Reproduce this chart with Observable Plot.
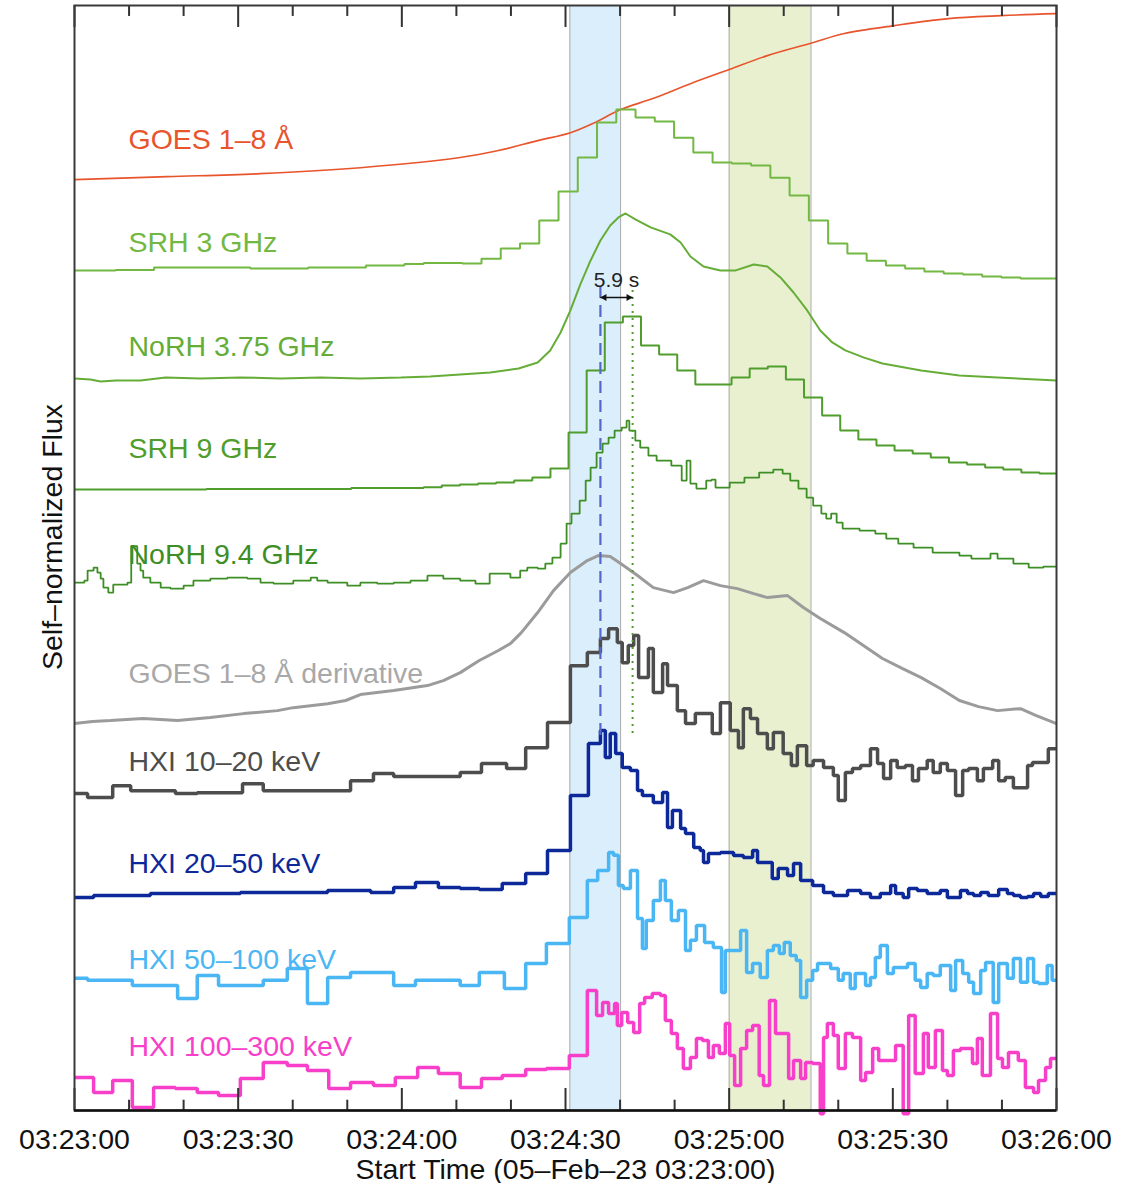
<!DOCTYPE html>
<html>
<head>
<meta charset="utf-8">
<script src="https://cdn.jsdelivr.net/npm/d3@7"></script>
<script src="https://cdn.jsdelivr.net/npm/@observablehq/plot@0.6"></script>
<style>
  html, body { margin: 0; padding: 0; background: #fff; }
  #chart svg { display: block; }
</style>
</head>
<body>
<div id="chart"></div>
<script>
// Flare of 2023-02-05: time is seconds after 03:23:00 UT,
// flux is self-normalized (percent of each channel's own range).

const goesTime = [0, 17, 34, 52.4, 70.7, 77.7, 84.9, 90.9, 95.7, 100.1, 106, 112.9, 120, 127, 135.3, 141.1, 150.3, 160.2, 169.9, 180];
const goesFlux = [0, 1.8, 3.6, 7.2, 13.3, 17.5, 23.5, 28.3, 34.9, 42.2, 48.8, 57.8, 66.3, 74.7, 82.5, 88.0, 92.8, 97.0, 98.8, 100];

// SRH samples on a regular cadence
const srh3Start = 0.47, srh3Cadence = 3.53;
const srh3Flux = [4.8, 4.8, 5.1, 5.1, 6.6, 6.6, 6.6, 6.6, 6.6, 6.0, 6.0, 6.0, 6.6, 6.6, 6.6, 7.8, 7.8, 8.7, 9.3, 9.3,
  9.0, 12.0, 18.1, 21.1, 34.9, 52.4, 72.9, 94.0, 101.8, 97.0, 94.6, 84.9, 75.9, 69.9, 69.3, 68.1, 60.8, 50.0, 34.9, 21.1,
  15.1, 10.8, 7.8, 6.0, 4.2, 3.0, 2.4, 1.2, 0.6, 0, 0];

const norh375Time = [0, 2.9, 4.8, 7.5, 12.1, 16.7, 23.1, 30.4, 37.8, 45.1, 52.4, 59.8, 65.2, 70.7, 76.2, 81.4, 84.9, 87.2, 89.1, 90.9,
  92.7, 94.6, 96.4, 98.2, 99.7, 101.0, 102.8, 105.6, 109.2, 111.1, 112.9, 115.3, 118.4, 121.2, 124.5, 127.0, 129.4, 131.8, 134.3, 136.7,
  138.9, 141.3, 144.6, 148.1, 155.2, 162.2, 169.2, 176.3, 180];
const norh375Flux = [1.8, 1.2, 0, 0.6, 0.6, 2.4, 1.8, 2.4, 1.8, 2.4, 1.8, 2.4, 3.0, 4.2, 5.4, 7.8, 11.4, 18.7, 29.5, 42.8,
  58.4, 72.9, 84.9, 94.0, 98.8, 101.2, 97.6, 92.8, 88.6, 83.7, 75.3, 69.3, 66.9, 66.9, 70.5, 69.3, 62.7, 53.6, 42.8, 30.7,
  23.5, 18.7, 14.5, 10.8, 6.6, 3.6, 2.4, 1.2, 0.6];

const srh9Start = 0.92, srh9Cadence = 3.32;
const srh9Flux = [0, 0, 0, 0, 0, 0, 0, 0.3, 0.3, 0.3, 0.3, 0.3, 0.3, 0.3, 0.3, 0.9, 0.9, 0.9, 0.9,
  1.4, 2.4, 3.0, 3.6, 4.2, 5.4, 7.2, 12.7, 34.3, 71.7, 100.6, 104.2, 86.7, 81.3, 71.7, 63.3, 63.3, 67.5, 72.9, 74.1,
  66.3, 55.4, 44.6, 35.5, 30.1, 26.5, 23.5, 21.7, 19.3, 16.3, 15.1, 13.3, 12.0, 10.2, 9.6];

const norh94Time = [0, 1.8, 2.4, 3.5, 4.2, 4.8, 5.3, 6.2, 7.1, 9.7, 10.4, 11.5, 12.1, 12.6, 13.9, 15.8, 17.6, 20.0, 21.8, 24.9,
  28.0, 31.7, 34.1, 36.5, 40.1, 43.3, 44.5, 46.4, 50.0, 52.4, 55.5, 58.5, 61.6, 64.7, 67.6, 70.7, 73.5, 76.1, 79.9, 81.7,
  83.0, 84.9, 86.3, 87.6, 89.1, 90.2, 91.1, 92.6, 93.7, 94.6, 95.7, 96.8, 97.9, 99.0, 100.3, 101.2, 101.7, 102.8, 103.7, 105.2,
  106.7, 109.4, 111.3, 112.2, 112.9, 114.0, 115.8, 116.8, 117.5, 120.1, 122.8, 125.5, 128.1, 129.8, 131.2, 132.7, 134.2, 135.4, 136.9, 137.8,
  138.7, 139.7, 140.8, 143.9, 146.8, 148.8, 151.0, 153.8, 157.3, 162.2, 164.4, 167.9, 169.2, 172.1, 174.9, 177.6];
const norh94Flux = [6.0, 7.2, 13.3, 15.1, 12.0, 8.4, 3.0, 0, 4.8, 6.0, 28.0, 17.5, 13.3, 9.0, 6.0, 3.0, 2.4, 4.2, 7.2, 8.4,
  9.0, 8.4, 6.0, 5.4, 7.2, 9.0, 7.2, 6.0, 4.2, 6.0, 5.4, 6.0, 7.2, 10.2, 8.4, 7.2, 5.4, 11.4, 9.0, 13.3,
  15.1, 14.5, 17.5, 21.1, 29.5, 41.6, 47.6, 55.4, 67.5, 75.3, 84.3, 89.8, 93.4, 97.6, 99.4, 103.6, 97.6, 91.6, 87.3, 82.5,
  79.5, 76.5, 67.5, 79.5, 65.7, 62.7, 67.5, 68.1, 63.3, 66.3, 69.3, 72.3, 74.1, 71.7, 67.5, 62.7, 57.2, 52.4, 47.6, 44.6,
  47.6, 42.2, 38.6, 37.3, 35.5, 32.5, 29.5, 27.1, 24.1, 22.3, 20.5, 23.5, 20.5, 17.5, 15.1, 15.7];

const goesDerivTime = [0, 3.3, 6.6, 12.6, 18.9, 24.9, 31.0, 37.2, 40.1, 46.4, 49.7, 52.4, 58.5, 64.7, 67.6, 70.7, 74.2, 77.7, 79.9, 81.9,
  84.9, 87.8, 90.9, 94.0, 96.0, 98.2, 100.1, 103.2, 106.1, 109.8, 112.4, 115.3, 118.4, 121.5, 124.5, 127.0, 130.7, 133.6, 136.7, 141.1,
  144.6, 148.1, 151.8, 155.2, 158.7, 162.2, 165.7, 169.2, 173.4, 176.3, 180];
const goesDerivFlux = [0, 1.2, 1.8, 3.0, 1.8, 3.6, 6.0, 7.8, 9.6, 12.0, 13.9, 17.5, 19.9, 22.9, 25.9, 30.7, 38.0, 44.0, 48.2, 54.8,
  66.9, 80.1, 91.0, 98.2, 101.2, 100.6, 96.4, 89.2, 81.9, 78.9, 81.9, 86.1, 83.1, 81.3, 78.3, 75.9, 77.1, 69.9, 63.3, 54.8,
  47.0, 39.2, 33.1, 27.7, 21.1, 13.9, 10.2, 7.8, 9.0, 4.8, 0];

// HXI count-rate bins (variable width), start time of each bin
const hxi10Time = [0, 2.4, 7.0, 10.3, 18.5, 22.5, 30.8, 34.6, 50.6, 54.8, 58.5, 70.7, 74.6, 79.2, 82.7, 86.7, 90.9, 94.0, 96.4, 97.9,
  99.5, 100.4, 101.5, 102.5, 103.4, 105.2, 106.1, 107.8, 108.7, 110.5, 112.0, 113.8, 116.9, 118.4, 120.2, 121.7, 122.6, 123.9, 125.2, 127.0,
  128.1, 129.9, 131.4, 132.5, 134.2, 135.4, 137.3, 139.1, 140.0, 141.3, 142.6, 144.1, 145.9, 147.2, 148.3, 149.6, 150.8, 152.3, 153.6, 154.7,
  156.3, 157.4, 158.7, 160.0, 161.5, 162.8, 163.9, 165.5, 166.6, 168.3, 169.4, 170.6, 172.1, 174.7, 175.6, 178.5];
const hxi10Flux = [4.2, 1.8, 9.0, 6.0, 4.2, 4.8, 10.2, 6.0, 12.0, 16.3, 14.5, 16.9, 22.3, 19.3, 31.9, 47.0, 81.3, 89.2, 97.6, 103.6,
  95.2, 83.1, 93.4, 99.4, 74.1, 91.6, 65.1, 82.5, 69.3, 54.2, 46.4, 52.4, 40.4, 59.0, 42.2, 31.9, 55.4, 49.4, 40.4, 31.3,
  41.0, 28.3, 21.1, 33.1, 21.1, 24.1, 19.9, 15.1, 0, 16.9, 19.3, 21.1, 31.3, 22.3, 13.3, 24.1, 19.9, 21.1, 12.0, 19.3,
  24.1, 16.9, 22.3, 18.1, 3.0, 18.1, 19.3, 12.0, 19.3, 24.1, 12.0, 13.9, 7.8, 21.1, 22.9, 31.3];

const hxi20Time = [0, 3.5, 13.9, 30.4, 46.4, 54.3, 58.5, 62.5, 66.7, 70.7, 74.2, 78.4, 82.7, 86.7, 90.9, 94.2, 96.4, 97.3, 98.2, 99.2,
  100.4, 101.9, 103.2, 104.1, 106.1, 107.8, 108.7, 109.6, 111.1, 112.0, 113.5, 114.7, 115.3, 116.2, 118.4, 120.8, 122.6, 124.3, 125.2, 127.9,
  129.0, 130.7, 131.8, 133.1, 135.3, 137.3, 139.1, 141.7, 144.1, 145.9, 147.7, 149.6, 150.5, 151.9, 152.9, 154.5, 156.3, 158.7, 160.0, 161.1,
  162.4, 163.7, 164.8, 166.1, 167.5, 169.4, 171.0, 172.1, 173.4, 174.7, 175.8, 177.1, 178.5];
const hxi20Flux = [0, 1.2, 2.4, 3.0, 4.2, 3.0, 6.0, 9.0, 6.0, 5.4, 4.8, 8.4, 14.5, 28.3, 61.4, 92.8, 100.6, 84.3, 98.8, 86.7,
  78.3, 76.5, 64.5, 61.4, 57.2, 63.3, 42.2, 52.4, 41.6, 38.6, 30.1, 28.3, 21.1, 26.5, 27.1, 25.3, 24.1, 28.3, 21.1, 11.4,
  17.5, 13.3, 20.5, 10.2, 7.2, 3.0, 1.2, 4.2, 2.4, 0, 2.4, 7.2, 2.4, 0, 5.4, 4.2, 2.4, 4.2, 0, 0,
  4.2, 2.4, 1.2, 3.0, 1.2, 4.8, 2.4, 1.2, 0, 0.6, 2.4, 0.6, 2.4];

const hxi50Time = [0, 2.4, 10.6, 18.9, 22.5, 26.4, 34.6, 39.0, 42.7, 46.4, 50.6, 58.5, 62.5, 70.7, 74.2, 78.8, 82.7, 86.5, 90.7, 94.0,
  95.9, 97.9, 98.8, 99.7, 100.6, 101.9, 103.2, 104.1, 104.8, 106.1, 107.4, 108.3, 109.4, 110.7, 112.0, 112.9, 114.0, 115.5, 117.1, 118.6,
  119.3, 122.1, 123.2, 124.3, 125.7, 127.0, 128.1, 129.2, 130.1, 131.2, 132.3, 133.1, 134.2, 135.3, 136.2, 138.6, 140.0, 140.9, 142.2, 143.1,
  145.0, 145.9, 146.8, 147.7, 149.0, 150.1, 152.7, 154.1, 155.1, 156.3, 157.4, 158.7, 160.6, 161.5, 162.8, 163.9, 164.8, 166.1, 167.0, 168.4,
  169.4, 171.0, 172.1, 173.4, 174.7, 175.8, 176.7, 178.3, 179.2];
const hxi50Flux = [15.1, 13.9, 10.8, 3.0, 16.9, 10.8, 13.9, 21.1, 0, 15.7, 18.7, 10.8, 13.9, 10.8, 18.7, 9.0, 24.1, 36.1, 51.8, 74.1,
  80.1, 91.0, 89.2, 71.1, 69.3, 80.1, 51.2, 33.1, 50.0, 62.0, 74.1, 62.0, 50.0, 56.0, 31.9, 38.0, 47.0, 36.7, 33.7, 6.6,
  31.9, 44.0, 18.7, 24.1, 15.7, 31.9, 34.9, 30.1, 36.7, 28.9, 25.9, 3.6, 13.9, 19.9, 24.1, 21.1, 13.9, 18.1, 9.0, 18.1,
  10.8, 15.7, 27.7, 34.9, 18.1, 21.7, 24.1, 13.9, 9.6, 18.1, 16.9, 22.9, 7.8, 25.9, 18.1, 12.7, 6.0, 19.9, 24.7, 0.6,
  24.1, 15.1, 27.1, 12.7, 27.1, 12.7, 12.0, 22.9, 13.9];

const hxi100Time = [0, 3.5, 7.0, 10.6, 14.5, 18.5, 22.5, 26.4, 30.4, 34.6, 39.0, 42.7, 46.6, 50.6, 54.8, 58.8, 62.9, 66.7, 70.7, 74.6,
  78.4, 82.7, 86.5, 90.7, 94.0, 95.7, 96.8, 97.9, 99.0, 99.5, 100.3, 101.4, 102.5, 103.6, 104.5, 105.9, 107.4, 108.3, 109.4, 110.5,
  111.6, 112.9, 114.0, 115.1, 116.2, 117.1, 118.2, 119.3, 120.1, 121.0, 122.1, 123.2, 124.3, 125.5, 126.3, 127.4, 128.5, 130.9, 131.8, 133.1,
  134.0, 135.3, 136.7, 137.3, 138.0, 139.1, 140.0, 141.3, 142.6, 144.1, 145.0, 146.3, 147.4, 150.5, 151.9, 152.9, 154.1, 155.6, 156.5, 157.8,
  159.1, 160.0, 161.1, 162.4, 164.6, 165.5, 166.4, 167.9, 169.2, 170.1, 171.2, 173.0, 174.3, 175.8, 176.7, 178.0, 178.9];
const hxi100Flux = [19.9, 10.8, 18.1, 1.8, 13.9, 13.3, 10.8, 9.0, 19.3, 28.9, 27.1, 24.1, 13.3, 16.9, 15.1, 19.9, 25.9, 22.3, 13.9, 19.3,
  21.1, 24.7, 25.3, 33.1, 72.3, 57.2, 65.1, 58.4, 64.5, 51.2, 59.0, 53.0, 47.0, 64.5, 68.1, 70.5, 69.3, 54.2, 46.4, 37.3,
  25.3, 31.9, 43.4, 42.2, 31.9, 39.2, 34.3, 52.4, 33.1, 15.1, 37.3, 48.2, 51.2, 21.1, 15.1, 66.3, 46.4, 19.3, 30.1, 19.3,
  28.9, 28.3, -2, 44.0, 52.4, 45.2, 25.3, 46.4, 44.0, 18.1, 22.9, 37.3, 30.1, 39.2, -2, 57.2, 22.3, 46.4, 25.9, 48.2,
  24.1, 21.1, 36.1, 37.3, 28.3, 43.4, 21.1, 58.4, 31.3, 25.9, 34.9, 30.1, 13.9, 10.8, 18.1, 25.9, 31.3];

// Highlighted intervals and the peak-to-peak delay
const impulsiveWindow = [90.8, 100.1];
const secondWindow = [120, 135];
const hxrPeakTime = 96.4;
const radioPeakTime = 102.3;

const tickMajor = [0, 30, 60, 90, 120, 150, 180];
const tickMinor = [10, 20, 40, 50, 70, 80, 100, 110, 130, 140, 160, 170];

// ---- layout / style ----
const seriesLabels = ["GOES 1–8 Å", "SRH 3 GHz", "NoRH 3.75 GHz", "SRH 9 GHz", "NoRH 9.4 GHz",
  "GOES 1–8 Å derivative", "HXI 10–20 keV", "HXI 20–50 keV", "HXI 50–100 keV", "HXI 100–300 keV"];
const seriesColors = ["#e8542c", "#72b843", "#66ad38", "#4f9d2d", "#3d8e24", "#9b9b9b", "#4d4d4d", "#0c2899", "#4ab6f4", "#f83fc9"];
const labelColors = ["#e8542c", "#72b843", "#66ad38", "#4f9d2d", "#3d8e24", "#a8a8a8", "#4d4d4d", "#0c2899", "#4ab6f4", "#f83fc9"];
const seriesWidths = [1.6, 2, 2, 2, 1.8, 3, 3.5, 3.5, 3.5, 3.5];
const seriesOffsets = [5.608, 5.012, 4.392, 3.741, 3.120, 2.331, 1.867, 1.283, 0.645, 0];
const labelLift = [0.187, 0.157, 0.156, 0.187, 0.175, 0.247, 0.181, 0.145, 0.21, 0.331];
const yTop = 6.657;

const regular = (start, cadence, flux) => flux.map((_, k) => start + cadence * k);
const series = [
  {time: goesTime, flux: goesFlux, curve: "catmull-rom"},
  {time: regular(srh3Start, srh3Cadence, srh3Flux), flux: srh3Flux, curve: "step-after"},
  {time: norh375Time, flux: norh375Flux, curve: "linear"},
  {time: regular(srh9Start, srh9Cadence, srh9Flux), flux: srh9Flux, curve: "step-after"},
  {time: norh94Time, flux: norh94Flux, curve: "step-after"},
  {time: goesDerivTime, flux: goesDerivFlux, curve: "linear"},
  {time: hxi10Time, flux: hxi10Flux, curve: "step-after"},
  {time: hxi20Time, flux: hxi20Flux, curve: "step-after"},
  {time: hxi50Time, flux: hxi50Flux, curve: "step-after"},
  {time: hxi100Time, flux: hxi100Flux, curve: "step-after"}
].map((s, i) => {
  const rows = s.time.map((t, k) => ({t: Math.max(0, t), y: seriesOffsets[i] + s.flux[k] / 100}));
  if (s.curve === "step-after" && rows[rows.length - 1].t < 180) rows.push({t: 180, y: rows[rows.length - 1].y});
  if (rows[0].t > 0) rows.unshift({t: 0, y: rows[0].y});
  return {...s, rows, label: seriesLabels[i], color: seriesColors[i], labelColor: labelColors[i],
    width: seriesWidths[i], labelY: seriesOffsets[i] + labelLift[i]};
});

const clockStart = 3 * 3600 + 23 * 60;
const fmtClock = s => {
  const v = clockStart + s;
  return [Math.floor(v / 3600), Math.floor((v % 3600) / 60), Math.round(v % 60)]
    .map(d => String(d).padStart(2, "0")).join(":");
};

const font = "'Liberation Sans', Arial, Helvetica, sans-serif";
const arrowY = 4.898;
const lag = radioPeakTime - hxrPeakTime;

const marks = [
  Plot.rect([impulsiveWindow], {x1: d => d[0], x2: d => d[1], fill: "#dbeefc"}),
  Plot.rect([secondWindow], {x1: d => d[0], x2: d => d[1], fill: "#e8f0d0"}),
  Plot.ruleX([...impulsiveWindow, ...secondWindow], {stroke: "#a9a9a9", strokeWidth: 1}),
  ...series.map(s => Plot.line(s.rows, {
    x: "t", y: "y", curve: s.curve, stroke: s.color, strokeWidth: s.width,
    strokeLinejoin: "miter", strokeLinecap: "butt"
  })),
  Plot.ruleX([hxrPeakTime], {y1: 2.259, y2: 4.958, stroke: "#5468cc", strokeWidth: 2.2, strokeDasharray: "12,7"}),
  Plot.ruleX([radioPeakTime], {y1: 2.271, y2: 4.94, stroke: "#4f9d2d", strokeWidth: 2, strokeDasharray: "2,5"}),
  Plot.link([lag], {x1: hxrPeakTime, x2: radioPeakTime, y1: arrowY, y2: arrowY, stroke: "#111", strokeWidth: 1.6,
    insetStart: 3, insetEnd: 3}),
  Plot.dot([hxrPeakTime], {x: d => d, y: arrowY, symbol: "triangle", r: 2.6, rotate: -90, dx: 4, fill: "#111", stroke: "none"}),
  Plot.dot([radioPeakTime], {x: d => d, y: arrowY, symbol: "triangle", r: 2.6, rotate: 90, dx: -4, fill: "#111", stroke: "none"}),
  Plot.text([lag], {x: (hxrPeakTime + radioPeakTime) / 2, y: 4.960, text: d => `${d.toFixed(1)} s`,
    fontSize: 21, fill: "#222", textAnchor: "middle", lineAnchor: "bottom"}),
  Plot.text(series, {x: 9.9, y: "labelY", text: "label", fill: "labelColor", fontSize: 28.5,
    textAnchor: "start", lineAnchor: "bottom"}),
  // tick marks on bottom and top edges, pointing inward
  Plot.ruleX(tickMajor, {y1: 0, y2: 0.1325, stroke: "#333", strokeWidth: 2}),
  Plot.ruleX(tickMinor, {y1: 0, y2: 0.062, stroke: "#333", strokeWidth: 2}),
  Plot.ruleX(tickMajor, {y1: yTop - 0.1325, y2: yTop, stroke: "#333", strokeWidth: 2}),
  Plot.ruleX(tickMinor, {y1: yTop - 0.066, y2: yTop, stroke: "#333", strokeWidth: 2}),
  Plot.text(tickMajor, {x: d => d, frameAnchor: "bottom", text: fmtClock, lineAnchor: "top", dy: 18,
    fontSize: 28.5, fill: "#111"}),
  Plot.frame({stroke: "#3a3a3a", strokeWidth: 2}),
  Plot.ruleY([0], {stroke: "#111", strokeWidth: 2.5}),
  Plot.text(["Start Time (05–Feb–23 03:23:00)"], {frameAnchor: "bottom", lineAnchor: "bottom", dy: 68,
    fontSize: 28.5, fill: "#111"}),
  Plot.text(["Self–normalized Flux"], {frameAnchor: "left", rotate: -90, dx: -13, dy: -21,
    textAnchor: "middle", lineAnchor: "bottom", fontSize: 28.5, fill: "#111"})
];

const chart = Plot.plot({
  width: 1131,
  height: 1183,
  marginLeft: 74,
  marginRight: 75,
  marginTop: 5,
  marginBottom: 73,
  x: {domain: [0, 180], axis: null},
  y: {domain: [0, yTop], axis: null},
  style: {fontFamily: font, background: "#fff", overflow: "visible"},
  marks
});
document.getElementById("chart").append(chart);
</script>
</body>
</html>
